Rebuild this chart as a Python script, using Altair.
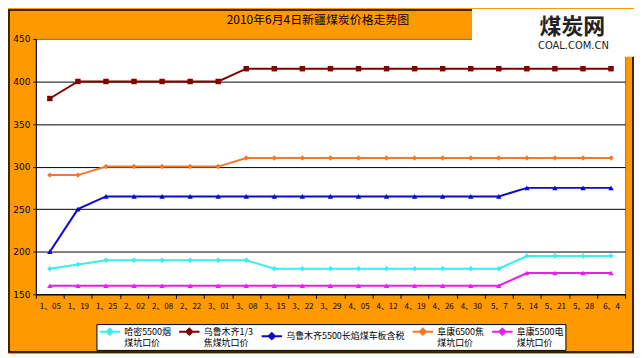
import altair as alt
import pandas as pd

dates = ["1、05", "1、19", "1、25", "2、02", "2、08", "2、22", "3、01", "3、08", "3、15", "3、22",
         "3、29", "4、05", "4、12", "4、19", "4、26", "4、30", "5、7", "5、14", "5、21", "5、28", "6、4"]

names = ["哈密5500烟\n煤坑口价", "乌鲁木齐1/3\n焦煤坑口价", "乌鲁木齐5500长焰煤车板含税",
         "阜康6500焦\n煤坑口价", "阜康5500电\n煤坑口价"]

hami_5500 = [180, 185, 190, 190, 190, 190, 190, 190, 180, 180, 180, 180, 180, 180, 180, 180, 180, 195, 195, 195, 195]
wlmq_13 = [380, 400, 400, 400, 400, 400, 400, 415, 415, 415, 415, 415, 415, 415, 415, 415, 415, 415, 415, 415, 415]
wlmq_5500 = [200, 250, 265, 265, 265, 265, 265, 265, 265, 265, 265, 265, 265, 265, 265, 265, 265, 275, 275, 275, 275]
fk_6500 = [290, 290, 300, 300, 300, 300, 300, 310, 310, 310, 310, 310, 310, 310, 310, 310, 310, 310, 310, 310, 310]
fk_5500 = [160, 160, 160, 160, 160, 160, 160, 160, 160, 160, 160, 160, 160, 160, 160, 160, 160, 175, 175, 175, 175]

colors = ["#3CEDED", "#800000", "#0A0ACF", "#F07A2A", "#E81FE8"]
shapes = ["diamond", "square", "triangle-up", "diamond", "triangle-up"]
y_ticks = [150, 200, 250, 300, 350, 400, 450]
title_text = "2010年6月4日新疆煤炭价格走势图"
logo_main = "煤炭网"
logo_sub = "COAL.COM.CN"

series = [hami_5500, wlmq_13, wlmq_5500, fk_6500, fk_5500]
rows = []
for n, vals, shp in zip(names, series, shapes):
    for d, v in zip(dates, vals):
        rows.append({"date": d, "series": n, "marker": shp, "value": v})
df = pd.DataFrame(rows)

FONT = "Noto Sans CJK SC"
W, H = 593, 257

x_enc = alt.X("date:N", sort=dates,
              scale=alt.Scale(type="band", paddingInner=0, paddingOuter=0),
              axis=alt.Axis(title=None, labelAngle=0, tickBand="extent", tickSize=4,
                            tickColor="black", domainColor="black", labelFontSize=8,
                            labelFont=FONT, labelColor="black", labelPadding=4,
                            labelOverlap=False, grid=False))
y_enc = alt.Y("value:Q",
              scale=alt.Scale(domain=[150, 450], nice=False, zero=False),
              axis=alt.Axis(title=None, values=y_ticks, tickSize=3, tickColor="black",
                            domainColor="black", labelFontSize=9, labelFont="DejaVu Sans",
                            labelColor="black", labelPadding=3, grid=True,
                            gridColor={"condition": {"test": "datum.value >= 450", "value": "#808080"},
                                       "value": "black"}))

color_scale = alt.Scale(domain=names, range=colors)

legend = alt.Legend(
    title=None, orient="none", legendX=61, legendY=287,
    direction="horizontal", columns=5,
    fillColor="white", strokeColor="black", padding=2,
    symbolType="M-1,-0.6H1M-0.3,-0.6L0,-0.9L0.3,-0.6L0,-0.3Z",
    symbolSize=420, symbolStrokeWidth=2,
    labelFont=FONT, labelFontSize=9, labelColor="black", labelBaseline="line-bottom",
    labelLimit=300, labelOffset=3, columnPadding=4, rowPadding=0,
    labelExpr="split(datum.label, '\\n')",
)

lines = alt.Chart(df).mark_line(strokeWidth=2).encode(
    x=x_enc, y=y_enc,
    color=alt.Color("series:N", scale=color_scale, sort=names, legend=legend),
)

point_layers = []
for shp in sorted(set(shapes)):
    point_layers.append(
        alt.Chart(df).transform_filter(alt.datum.marker == shp)
        .mark_point(filled=True, size=30, opacity=1, shape=shp)
        .encode(x=x_enc, y=y_enc,
                color=alt.Color("series:N", scale=color_scale, sort=names, legend=None))
    )

one = alt.Data(values=[{}])

border = alt.Chart(one).mark_rect(fill="transparent", stroke="black", strokeWidth=1.5).encode(
    x=alt.value(-27), x2=alt.value(601), y=alt.value(-29), y2=alt.value(315))

title = alt.Chart(one).mark_text(font=FONT, fontSize=12, color="black").encode(
    x=alt.value(284), y=alt.value(-19), text=alt.value(title_text))

logo_bg = alt.Chart(one).mark_rect(fill="white").encode(
    x=alt.value(439), x2=alt.value(602), y=alt.value(-30), y2=alt.value(18))

logo_t1 = alt.Chart(one).mark_text(font=FONT, fontSize=22, fontWeight="bold",
                                   color="#222222").encode(
    x=alt.value(540), y=alt.value(-12), text=alt.value(logo_main))
logo_t2 = alt.Chart(one).mark_text(font="DejaVu Sans", fontSize=10,
                                   color="#222222").encode(
    x=alt.value(541), y=alt.value(7), text=alt.value(logo_sub))

chart = alt.layer(lines, *point_layers, border, title, logo_bg, logo_t1, logo_t2).properties(
    width=W, height=H,
    padding={"left": 28, "top": 30, "right": 9, "bottom": 59},
    autosize=alt.AutoSizeParams(type="none"),
).configure(
    background="#FF9900",
).configure_view(
    fill="white", stroke="#808080", strokeWidth=1,
)

chart.save("out.html", embed_options={"renderer": "svg", "actions": False})
